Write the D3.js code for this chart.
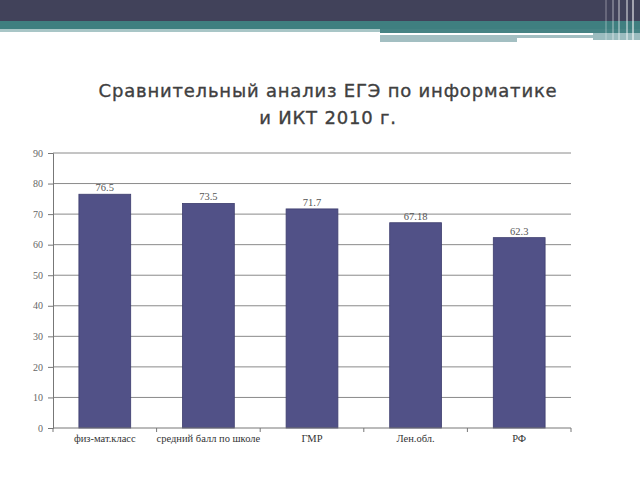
<!DOCTYPE html>
<html><head><meta charset="utf-8">
<script src="https://cdn.jsdelivr.net/npm/d3@7"></script>
<style>body{margin:0;background:#fff}svg{display:block}</style>
</head><body>
<svg id="c" width="640" height="480"></svg>
<script>
const categories = ["физ-мат.класс","средний балл по школе","ГМР","Лен.обл.","РФ"];
const values = [76.5, 73.5, 71.7, 67.18, 62.3];
const valueLabels = ["76.5","73.5","71.7","67.18","62.3"];
const yTicks = [0,10,20,30,40,50,60,70,80,90];
const titleLines = ["Сравнительный анализ ЕГЭ по информатике","и ИКТ 2010 г."];

const svg = d3.select("#c");
// header decoration
svg.append("rect").attr("x",0).attr("y",0).attr("width",640).attr("height",21).attr("fill","#41425a");
svg.append("rect").attr("x",0).attr("y",21).attr("width",640).attr("height",8).attr("fill","#3f7f80");
svg.append("rect").attr("x",0).attr("y",29).attr("width",380).attr("height",3).attr("fill","#a9c6c7");
svg.append("rect").attr("x",380).attr("y",29).attr("width",260).attr("height",4).attr("fill","#468384");
svg.append("rect").attr("x",380).attr("y",35).attr("width",137).attr("height",7).attr("fill","#a3bfc2");
svg.append("rect").attr("x",517).attr("y",35).attr("width",76).attr("height",3).attr("fill","#a3bfc2");
svg.append("rect").attr("x",593).attr("y",33).attr("width",47).attr("height",7).attr("fill","#9cbcbf");
[605,612,618,626,632].forEach((px,i)=>{
  svg.append("rect").attr("x",px).attr("y",0).attr("width",2).attr("height",43)
    .attr("fill","#ffffff").attr("opacity",0.2+0.08*i);
});

// title
titleLines.forEach((t,i)=>{
  svg.append("text").attr("x",328).attr("y",97+27*i).attr("text-anchor","middle")
    .attr("font-family","DejaVu Sans, Verdana, sans-serif").attr("font-size",18).attr("letter-spacing",0.8)
    .attr("fill","#404040").attr("stroke","#404040").attr("stroke-width",0.35)
    .text(t);
});

const pLeft=53, pRight=571, pTop=153, pBottom=428;
const x = d3.scaleBand().domain(categories).range([pLeft,pRight]).paddingInner(0.5).paddingOuter(0.25);
const y = d3.scaleLinear().domain([0,90]).range([pBottom,pTop]);

// gridlines
svg.append("g").selectAll("line").data(yTicks.filter(d=>d>0)).join("line")
  .attr("x1",pLeft).attr("x2",pRight).attr("y1",d=>y(d)).attr("y2",d=>y(d))
  .attr("stroke","#8a8a8a").attr("stroke-width",1);

// bars
svg.append("g").selectAll("rect").data(values).join("rect")
  .attr("x",(d,i)=>x(categories[i])).attr("width",x.bandwidth())
  .attr("y",d=>y(d)).attr("height",d=>pBottom-y(d))
  .attr("fill","#515187").attr("stroke","#3e3e6e").attr("stroke-width",0.8);

// value labels
svg.append("g").selectAll("text").data(values).join("text")
  .attr("x",(d,i)=>x(categories[i])+x.bandwidth()/2).attr("y",d=>y(d)-3)
  .attr("text-anchor","middle").attr("font-family","Liberation Serif, serif").attr("font-size",10.5).attr("fill","#555")
  .text((d,i)=>valueLabels[i]);

// y axis
const yAxis = svg.append("g").attr("transform",`translate(${pLeft},0)`)
  .call(d3.axisLeft(y).tickValues(yTicks).tickSize(5).tickPadding(5));
yAxis.select(".domain").attr("stroke","#777");
yAxis.selectAll(".tick line").attr("stroke","#777");
yAxis.selectAll("text").attr("font-family","Liberation Serif, Georgia, serif").attr("font-size",10).attr("fill","#666");

// x axis
const xEdge = d3.scaleLinear().domain([0,categories.length]).range([pLeft,pRight]);
svg.append("line").attr("x1",pLeft).attr("x2",pRight).attr("y1",pBottom).attr("y2",pBottom).attr("stroke","#777");
svg.append("g").selectAll("line").data(d3.range(categories.length+1)).join("line")
  .attr("x1",d=>xEdge(d)).attr("x2",d=>xEdge(d)).attr("y1",pBottom).attr("y2",pBottom+4).attr("stroke","#777");
svg.append("g").selectAll("text").data(categories).join("text")
  .attr("x",d=>x(d)+x.bandwidth()/2).attr("y",pBottom+14)
  .attr("text-anchor","middle").attr("font-family","Liberation Serif, serif").attr("font-size",10.5).attr("fill","#333")
  .text(d=>d);
</script>
</body></html>
